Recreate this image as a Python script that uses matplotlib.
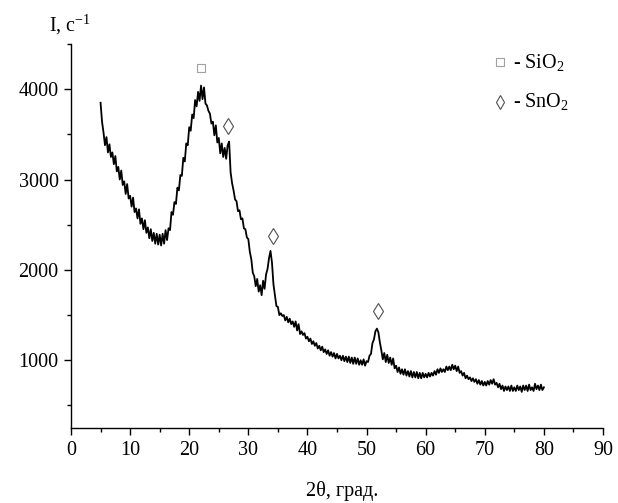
import numpy as np
import matplotlib
matplotlib.use('Agg')
import matplotlib.pyplot as plt
from matplotlib.ticker import MultipleLocator

plt.rcParams['font.family'] = ['Liberation Serif', 'DejaVu Serif']
plt.rcParams['mathtext.fontset'] = 'custom'
plt.rcParams['mathtext.rm'] = 'Liberation Serif'

# 2theta grid, step 0.25 deg, 5..80
two_theta_start = 5.0
two_theta_step = 0.25

# intensity (4 points per degree)
intensity = [
    3850, 3640, 3520, 3380,
    3470, 3300, 3390, 3250,
    3300, 3170, 3260, 3090,
    3140, 3000, 3100, 2940,
    2980, 2840, 2950, 2790,
    2820, 2700, 2800, 2640,
    2680, 2570, 2670, 2510,
    2570, 2450, 2550, 2410,
    2470, 2350, 2450, 2320,
    2410, 2290, 2400, 2280,
    2390, 2270, 2400, 2290,
    2440, 2330, 2460, 2440,
    2640, 2610, 2750, 2730,
    2910, 2880, 3050, 3040,
    3240, 3200, 3400, 3380,
    3580, 3540, 3720, 3680,
    3880, 3810, 3970, 3870,
    4040, 3890, 4020, 3840,
    3820, 3760, 3730, 3620,
    3640, 3490, 3600, 3410,
    3460, 3290, 3400, 3250,
    3350, 3230, 3380, 3420,
    3080, 2960, 2880, 2780,
    2760, 2650, 2660, 2560,
    2570, 2460, 2450, 2360,
    2340, 2200, 2120, 1970,
    1930, 1820, 1900, 1760,
    1830, 1720, 1880, 1790,
    1950, 2010, 2130, 2210,
    2080, 1840, 1720, 1600,
    1590, 1500, 1520, 1490,
    1500, 1440, 1480, 1420,
    1460, 1400, 1430, 1370,
    1430, 1330, 1400, 1290,
    1320, 1280, 1300, 1240,
    1260, 1210, 1240, 1180,
    1210, 1160, 1190, 1130,
    1160, 1110, 1150, 1090,
    1120, 1070, 1110, 1050,
    1090, 1040, 1080, 1020,
    1070, 1020, 1050, 1000,
    1050, 990, 1040, 980,
    1040, 970, 1030, 960,
    1030, 960, 1020, 950,
    1000, 950, 1010, 940,
    990, 980, 1050, 1070,
    1190, 1230, 1320, 1350,
    1310, 1200, 1110, 1010,
    1080, 980, 1060, 970,
    1030, 950, 1020, 910,
    940, 870, 920, 850,
    900, 840, 900, 830,
    880, 820, 880, 810,
    870, 810, 870, 800,
    860, 800, 860, 810,
    850, 810, 860, 820,
    860, 830, 880, 840,
    900, 860, 910, 870,
    900, 870, 930, 890,
    930, 890, 950, 900,
    940, 880, 930, 860,
    880, 830, 860, 800,
    830, 790, 810, 770,
    800, 760, 790, 740,
    780, 730, 770, 720,
    760, 720, 770, 730,
    780, 740, 790, 730,
    750, 700, 740, 680,
    720, 660, 710, 670,
    710, 660, 720, 660,
    700, 660, 720, 670,
    710, 650, 720, 670,
    720, 660, 730, 670,
    700, 660, 740, 680,
    720, 670, 730, 670,
    700,
]
two_theta = two_theta_start + two_theta_step * np.arange(len(intensity))

# phase markers
sio2_x = [22.0]
sio2_y = [4230]
sno2_x = [26.6, 34.1, 51.9]
sno2_y = [3590, 2370, 1545]

fig = plt.figure(figsize=(6.18, 5.03), dpi=100)
ax = fig.add_axes([0.1149, 0.1491, 0.8608, 0.7634])

ax.plot(two_theta, intensity, color='black', lw=1.3)
ax.plot(sio2_x, sio2_y, ls='none', marker='s', ms=6, mfc='white', mec='#a0a0a0', mew=0.8)
ax.plot(sno2_x, sno2_y, ls='none', marker='d', ms=8, mfc='white', mec='#505050', mew=0.8)

ax.set_xlim(0, 90)
ax.set_ylim(250, 4500)
ax.xaxis.set_major_locator(MultipleLocator(10))
ax.xaxis.set_minor_locator(MultipleLocator(5))
ax.yaxis.set_major_locator(MultipleLocator(1000))
ax.yaxis.set_minor_locator(MultipleLocator(500))
ax.spines['top'].set_visible(False)
ax.spines['right'].set_visible(False)
for s in ('left', 'bottom'):
    ax.spines[s].set_linewidth(1.0)
ax.tick_params(which='major', direction='out', length=5, width=1.0, labelsize=14.5, pad=4)
ax.tick_params(which='minor', direction='out', length=3, width=1.0)

# legend built by hand
ax.plot([72.5], [4300], ls='none', marker='s', ms=6,
        mfc='white', mec='#a0a0a0', mew=0.8, clip_on=False)
ax.plot([72.5], [3860], ls='none', marker='d', ms=7, mfc='white', mec='#505050',
        mew=0.8, clip_on=False)
ax.text(74.7, 4290, r'- SiO$_2$', fontsize=14.5, va='center')
ax.text(74.7, 3850, r'- SnO$_2$', fontsize=14.5, va='center')

fig.text(0.079, 0.952, r'I, c$^{-1}$', fontsize=14.5, va='center')
fig.text(0.553, 0.024, '2θ, град.', fontsize=14.5, ha='center', va='center')

fig.savefig('out.png', dpi=100)
